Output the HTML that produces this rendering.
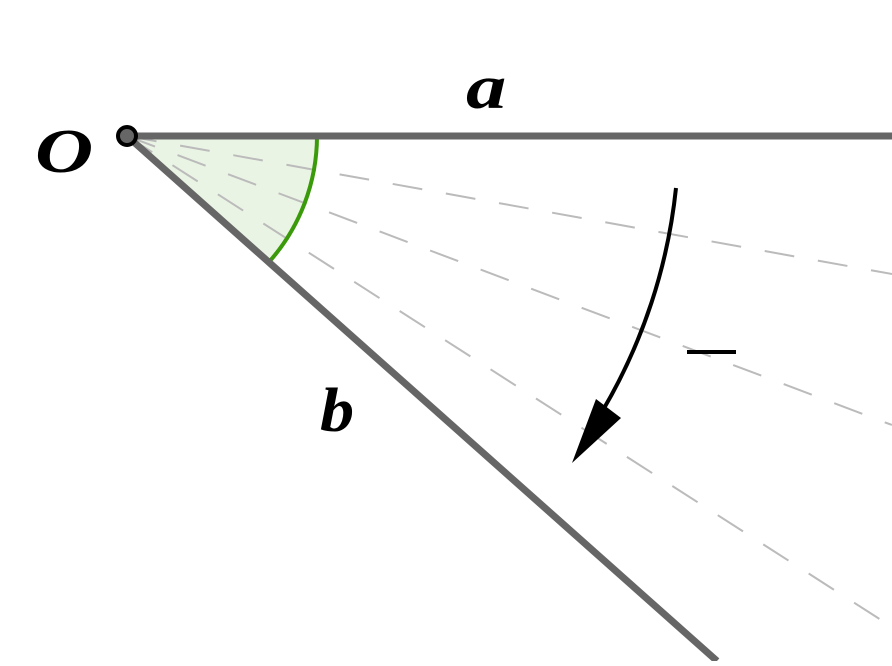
<!DOCTYPE html>
<html><head><style>html,body{margin:0;padding:0;background:#fff}</style></head>
<body>
<svg width="892" height="661" viewBox="0 0 892 661" xmlns="http://www.w3.org/2000/svg">
<path d="M127,136 L317,136 A190,190 0 0 1 269,262 Z" fill="#eaf4e4"/>
<g stroke="#bbb" stroke-width="2" stroke-dasharray="30,24" fill="none">
<line x1="127" y1="136" x2="892" y2="274"/>
<line x1="127" y1="136" x2="892" y2="425"/>
<line x1="127" y1="136" x2="892" y2="627"/>
</g>
<path d="M317,136 A190,190 0 0 1 269,262" stroke="#3a9a0a" stroke-width="4" fill="none"/>
<line x1="127" y1="136" x2="892" y2="136" stroke="#666" stroke-width="7"/>
<line x1="127" y1="136" x2="717" y2="661" stroke="#666" stroke-width="7"/>
<circle cx="127" cy="136" r="9" fill="#666" stroke="#000" stroke-width="4"/>
<path d="M676,188 A551,551 0 0 1 603,410" stroke="#000" stroke-width="4" fill="none"/>
<path d="M572,463 L596,399 L621,418 Z" fill="#000"/>
<line x1="687" y1="352" x2="736" y2="352" stroke="#000" stroke-width="4"/>
<g font-family="Liberation Serif, serif" font-style="italic" font-weight="bold" font-size="62" fill="#000">
<text transform="translate(466,108) scale(1.3,1)">a</text>
<text transform="translate(320,431) scale(1.1,1)">b</text>
<text transform="translate(35,172) scale(1.3,1)">O</text>
</g>
</svg>
</body></html>
